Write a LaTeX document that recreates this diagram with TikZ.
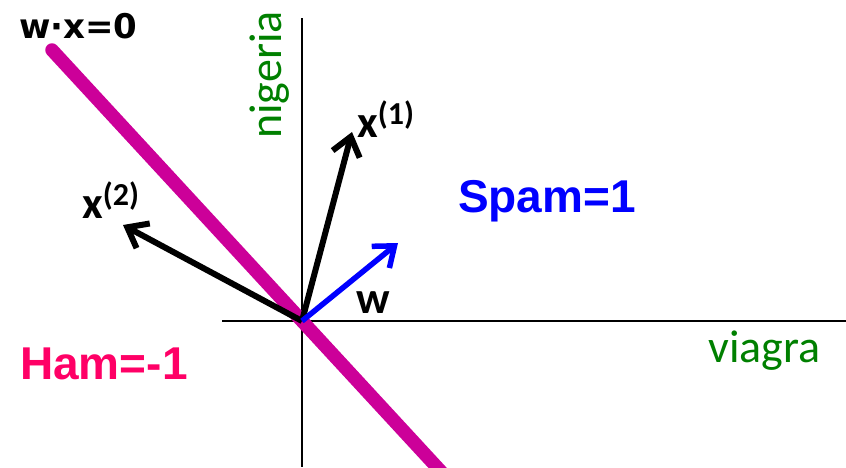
\documentclass[tikz,border=0pt]{standalone}
\usepackage{fontspec}
\usepackage{xcolor}
\usetikzlibrary{arrows.meta}
\setmainfont{Carlito}
\newfontfamily\arialfont{Liberation Sans}
\newfontfamily\dejavufont{DejaVu Sans}

\definecolor{axisgreen}{RGB}{0,128,0}
\definecolor{hampink}{RGB}{255,0,102}
\definecolor{linemagenta}{RGB}{204,0,153}

\newcommand{\vecsup}[1]{\raisebox{13pt}{\fontsize{32}{32}\selectfont(#1)}}

\begin{document}
\begin{tikzpicture}[x=1pt, y=-1pt,
		vec/.style={line width=6pt, -{Straight Barb[length=18pt, width=28pt]}},
		veclabel/.style={anchor=base west, inner sep=0pt, font=\fontsize{45}{45}\selectfont\bfseries},
		axislabel/.style={inner sep=0pt, text=axisgreen, font=\fontsize{46}{46}\selectfont},
		classlabel/.style={anchor=base west, inner sep=0pt, font=\fontsize{46}{46}\selectfont\arialfont\bfseries}]
				\path[use as bounding box] (0,0) rectangle (846,467);
				
				% Axes
				\coordinate (O) at (302,321);
				\coordinate (xleft) at (222,321);
				\coordinate (xright) at (846,321);
				\coordinate (ytop) at (302,18);
				\coordinate (ybottom) at (302,467);
				\draw[line width=1.5pt] (xleft) -- (xright);
				\draw[line width=1.5pt] (ytop) -- (ybottom);
				
				% Decision boundary
				\coordinate (btop) at (52,50);
				\coordinate (bbottom) at (446,477);
				\draw[line width=13.5pt, linemagenta, line cap=round] (btop) -- (bbottom);
				
				% Vectors
				\coordinate (x1tip) at (352,132);
				\coordinate (x2tip) at (123,225);
				\coordinate (wtip) at (398,243);
				\draw[vec] (O) -- (x1tip);
				\draw[vec] (O) -- (x2tip);
				\draw[vec, line width=5.5pt, blue] (O) -- (wtip);
				
				% Labels
				\node[veclabel] (x1label) at (357,137) {x\vecsup{1}};
				\node[veclabel] (x2label) at (82,218) {x\vecsup{2}};
				\node[veclabel] (wlabel) at (356,313) {w};
				\node[anchor=base west, inner sep=0pt, font=\fontsize{34}{34}\selectfont\dejavufont\bfseries] (boundlabel) at (19,38) {w·x=0};
				\node[axislabel, rotate=90] (ylabel) at (270,75) {nigeria};
				\node[axislabel, anchor=base west] (xlabel) at (708,362) {viagra};
				\node[classlabel, text=blue] (spamlabel) at (458,212) {Spam=1};
				\node[classlabel, text=hampink] (hamlabel) at (20,379) {Ham=-1};
			\end{tikzpicture}
\end{document}
